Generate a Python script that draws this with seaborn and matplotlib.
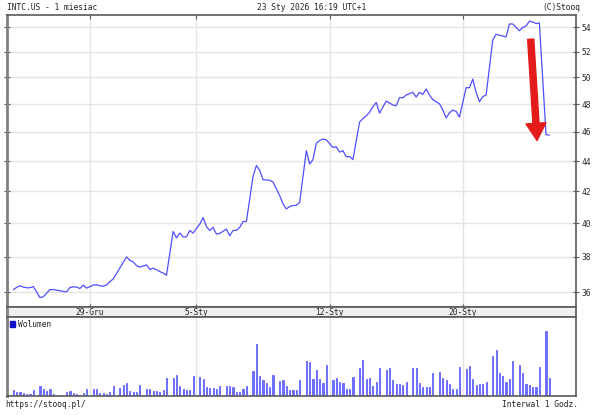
import numpy as np
import pandas as pd
import seaborn as sns
import matplotlib.pyplot as plt
from matplotlib.patches import Patch
from matplotlib.ticker import NullLocator, FixedLocator, FixedFormatter

sns.set_style('white')
plt.rcParams['font.family'] = ['DejaVu Sans Mono']

# INTC.US hourly close, 8 slots per session (None = empty slot between sessions)
price = [
    36.15, 36.27, 36.36, 36.29, 36.25, 36.25, 36.32, None,   # 23 Gru
    35.71, 35.76, 35.95, 36.15, 36.15, None, None, None,     # 24 Gru
    36.02, 36.27, 36.30, 36.29, 36.21, 36.40, 36.23, None,   # 26 Gru
    36.40, 36.42, 36.36, 36.34, 36.40, 36.59, 36.74, None,   # 29 Gru
    37.37, 37.70, 38.00, 37.80, 37.71, 37.50, 37.41, None,   # 30 Gru
    37.54, 37.28, 37.35, 37.26, 37.16, 37.07, 36.95, None,   # 31 Gru
    39.51, 39.12, 39.41, 39.18, 39.18, 39.57, 39.41, None,   # 2 Sty
    39.96, 40.36, 39.80, 39.57, 39.76, 39.35, 39.39, None,   # 5 Sty
    39.65, 39.25, 39.57, 39.57, 39.76, 40.11, 40.11, None,   # 6 Sty
    42.98, 43.70, 43.37, 42.76, 42.74, 42.72, 42.61, None,   # 7 Sty
    41.73, 41.22, 40.89, 41.04, 41.10, 41.12, 41.30, None,   # 8 Sty
    44.70, 43.80, 44.10, 45.20, 45.40, 45.50, 45.45, None,   # 9 Sty
    44.92, 44.96, 44.60, 44.70, 44.28, 44.30, 44.10, None,   # 12 Sty
    46.70, 46.94, 47.15, 47.40, 47.80, 48.12, 47.34, None,   # 13 Sty
    48.22, 48.07, 47.93, 47.88, 48.47, 48.47, 48.67, None,   # 14 Sty
    48.87, 48.52, 48.87, 48.72, 49.12, 48.67, 48.32, None,   # 15 Sty
    48.02, 47.57, 46.99, 47.37, 47.56, 47.46, 47.06, None,   # 16 Sty
    49.22, 49.22, 49.87, 48.87, 48.17, 48.55, 48.67, None,   # 20 Sty
    52.93, 53.41, 53.32, 53.27, 53.18, 54.25, 54.25, None,   # 21 Sty
    53.69, 53.97, 54.08, 54.48, 54.42, 54.28, 54.34, None,   # 22 Sty
    45.81, 45.77,                                            # 23 Sty
]

# hourly volume, mln shares
volume = [
    1.8, 1.3, 1.1, 0.9, 0.6, 0.7, 1.8, 0,
    3.1, 2.2, 1.6, 2.0, 0.6, 0, 0, 0,
    1.3, 1.5, 1.0, 0.6, 0.4, 0.9, 2.2, 0,
    2.0, 2.0, 0.9, 0.8, 0.7, 1.1, 2.9, 0,
    2.5, 3.2, 3.8, 1.6, 1.1, 1.2, 3.3, 0,
    2.0, 2.0, 1.6, 1.5, 1.2, 1.8, 5.5, 0,
    5.3, 6.2, 3.0, 2.2, 1.8, 1.8, 5.9, 0,
    5.7, 5.1, 2.7, 2.5, 2.4, 2.2, 3.1, 0,
    3.0, 3.0, 2.8, 1.3, 1.3, 2.2, 3.0, 0,
    7.5, 15.6, 6.0, 4.7, 4.0, 2.8, 6.3, 0,
    4.4, 4.8, 2.9, 1.8, 1.9, 1.9, 4.8, 0,
    10.5, 10.3, 5.2, 7.7, 5.1, 4.0, 9.3, 0,
    4.9, 5.4, 4.2, 3.9, 2.0, 2.0, 5.7, 0,
    8.3, 10.7, 5.1, 5.3, 3.1, 4.1, 8.3, 0,
    7.9, 8.3, 4.8, 3.5, 3.5, 3.4, 4.3, 0,
    8.5, 8.3, 3.9, 2.7, 2.7, 2.8, 6.8, 0,
    7.2, 5.4, 4.8, 3.5, 2.0, 2.2, 8.8, 0,
    8.1, 8.9, 5.1, 3.4, 3.7, 3.6, 4.3, 0,
    12.0, 13.7, 6.9, 5.9, 4.3, 5.1, 10.5, 0,
    9.2, 7.0, 3.7, 3.2, 2.7, 2.8, 8.6, 0,
    19.5, 5.5,
]

date_slots = [23, 55, 95, 135]
date_labels = ['29-Gru', '5-Sty', '12-Sty', '20-Sty']
price_ticks = [36, 38, 40, 42, 44, 46, 48, 50, 52, 54]

df = pd.DataFrame({'slot': np.arange(len(price)),
                   'price': pd.to_numeric(pd.Series(price), errors='coerce'),
                   'volume': volume})

LINE = '#4f4fff'
BAR = '#6f6fff'
FRAME = '#5a5a5a'
GRID = '#e4e4e4'
FS = 5.7
xlim = (-1.9, 169)

fig = plt.figure(figsize=(6.05, 4.15), dpi=100)
W, H = 605, 415


def px_axes(x0, y0, x1, y1):
    return fig.add_axes([x0 / W, 1 - y1 / H, (x1 - x0) / W, (y1 - y0) / H])


ax = px_axes(7, 15, 576, 307)
axd = px_axes(7, 307, 576, 317)
axv = px_axes(7, 317, 576, 396)

# price panel
sns.lineplot(data=df.dropna(subset=['price']), x='slot', y='price', ax=ax,
             color=LINE, linewidth=0.9)
ax.set_yscale('log')
ax.set_ylim(35.2, 55.0)
ax.set_xlim(*xlim)
ax.yaxis.set_major_locator(FixedLocator(price_ticks))
ax.yaxis.set_major_formatter(FixedFormatter([str(t) for t in price_ticks]))
ax.yaxis.set_minor_locator(NullLocator())
ax.set_xticks(date_slots)
ax.set_xticklabels([])
ax.grid(True, color=GRID, linewidth=1)
ax.set_axisbelow(True)
ax.tick_params(axis='y', left=True, right=True, labelleft=False, labelright=True,
               direction='inout', length=4, width=0.8, color=FRAME,
               labelsize=FS, pad=2)
ax.tick_params(axis='x', top=True, bottom=False, direction='in', length=3,
               width=0.8, color=FRAME)
ax.set_xlabel('')
ax.set_ylabel('')

# red arrow
ax.annotate('', xy=(157.3, 45.4), xytext=(155.4, 53.0),
            arrowprops=dict(arrowstyle='simple,head_width=0.72,head_length=0.62,tail_width=0.22',
                            color='#e41b1b', mutation_scale=20, shrinkA=0, shrinkB=0))

# date strip
axd.set_facecolor('#efefef')
axd.set_xlim(*xlim)
axd.set_ylim(0, 1)
axd.set_yticks([])
axd.set_xticks(date_slots)
axd.set_xticklabels([])
axd.tick_params(axis='x', bottom=True, top=True, direction='out', length=2.5,
                width=0.8, color=FRAME)
for s, lab in zip(date_slots, date_labels):
    axd.text(s, 0.45, lab, ha='center', va='center', fontsize=FS, color='#222222')

# volume panel
sns.barplot(data=df[df['volume'] > 0], x='slot', y='volume', native_scale=True,
            color=BAR, saturation=1, width=0.35, errorbar=None, ax=axv,
            edgecolor=BAR, linewidth=0.7)
axv.set_xlim(*xlim)
axv.set_ylim(0, 23.7)
axv.set_yticks([])
axv.set_xticks(date_slots)
axv.set_xticklabels([])
axv.tick_params(axis='x', length=0)
axv.grid(True, axis='x', color=GRID, linewidth=1)
axv.set_axisbelow(True)
axv.set_xlabel('')
axv.set_ylabel('')
axv.legend(handles=[Patch(color='#1010c8', label='Wolumen')], loc='upper left',
           frameon=False, fontsize=FS, handlelength=0.7, handleheight=0.8,
           handletextpad=0.3, borderaxespad=0.15, borderpad=0.2)

for a in (ax, axd, axv):
    for side in ('top', 'right', 'bottom'):
        a.spines[side].set_color(FRAME)
        a.spines[side].set_linewidth(1.2)
    a.spines['left'].set_color('#808080')
    a.spines['left'].set_linewidth(2)

# header and footer
fig.text(7 / W, 1 - 7 / H, 'INTC.US - 1 miesiac', fontsize=FS, va='center', color='#222222')
fig.text(312 / W, 1 - 7 / H, '23 Sty 2026 16:19 UTC+1', fontsize=FS, ha='center',
         va='center', color='#222222')
fig.text(580 / W, 1 - 7 / H, '(C)Stooq', fontsize=FS, ha='right', va='center', color='#222222')
fig.text(5 / W, 1 - 404 / H, 'https://stooq.pl/', fontsize=FS, va='center', color='#222222')
fig.text(578 / W, 1 - 404 / H, 'Interwal 1 Godz.', fontsize=FS, ha='right', va='center',
         color='#222222')

fig.savefig('out.png', dpi=100)
